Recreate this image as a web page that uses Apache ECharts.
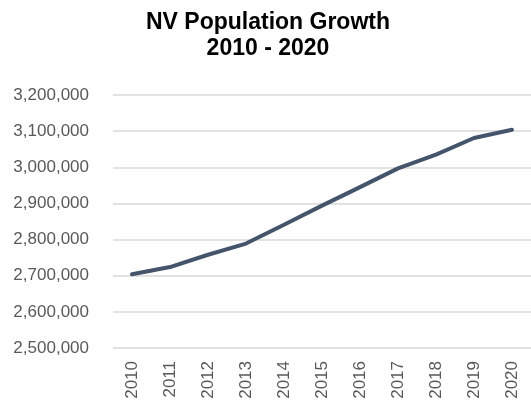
<!DOCTYPE html>
<html>
<head>
<meta charset="utf-8">
<script src="https://cdn.jsdelivr.net/npm/echarts@6/dist/echarts.min.js"></script>
<style>html,body{margin:0;padding:0;background:#fff}#c{width:531px;height:402px}</style>
</head>
<body>
<div id="c"></div>
<script>
const titleText = 'NV Population Growth\n2010 - 2020';
const years = ['2010','2011','2012','2013','2014','2015','2016','2017','2018','2019','2020'];
const population = [2704000, 2724000, 2758000, 2789000, 2841000, 2894000, 2945000, 2997000, 3035000, 3081000, 3104000];
const yMin = 2500000, yMax = 3200000, yStep = 100000;

const chart = echarts.init(document.getElementById('c'), null, {renderer: 'canvas'});
chart.setOption({
  animation: false,
  backgroundColor: '#ffffff',
  title: {
    text: titleText,
    left: 263,
    textAlign: 'center',
    top: 5,
    textStyle: {fontFamily: 'Liberation Sans', fontWeight: 'bold', fontSize: 23, lineHeight: 26, color: '#000000'}
  },
  grid: {left: 113, right: 0, top: 95, bottom: 54, containLabel: false},
  xAxis: {
    type: 'category',
    data: years,
    boundaryGap: true,
    axisLine: {show: false},
    axisTick: {show: false},
    axisLabel: {rotate: 90, margin: 13, fontFamily: 'Liberation Sans', fontSize: 17, color: '#595959'}
  },
  yAxis: {
    type: 'value',
    min: yMin, max: yMax, interval: yStep,
    axisLine: {show: false},
    axisTick: {show: false},
    splitLine: {lineStyle: {color: '#d9d9d9', width: 1.5}},
    axisLabel: {
      margin: 24,
      fontFamily: 'Liberation Sans', fontSize: 17, color: '#595959',
      formatter: v => v.toLocaleString('en-US')
    }
  },
  series: [{
    type: 'line',
    data: population,
    symbol: 'none',
    lineStyle: {color: '#44546a', width: 4, cap: 'round', join: 'round'}
  }]
});
</script>
</body>
</html>
